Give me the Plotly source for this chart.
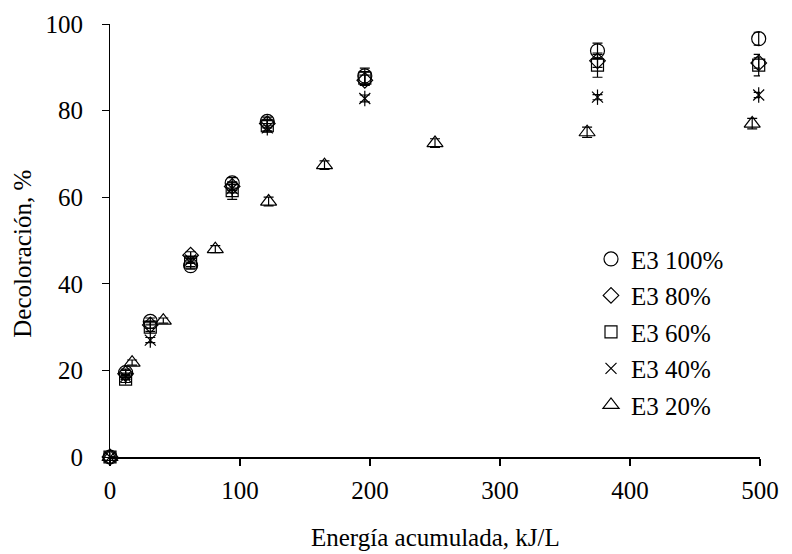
import plotly.graph_objects as go

# Data
energy = [0, 12, 31, 62, 94, 121, 196, 375, 499]
energy_20 = [0, 17, 41, 81, 122, 165, 250, 367, 494]

dec_100 = [0, 19.5, 31.3, 44.2, 63.3, 77.5, 88.0, 93.8, 96.6]
dec_80 = [0, 19.2, 30.5, 46.6, 62.5, 77.0, 87.0, 91.5, 91.0]
dec_60 = [0, 18.0, 30.0, 45.0, 61.5, 76.5, 87.5, 90.5, 90.5]
dec_40 = [0, 18.5, 27.0, 45.5, 62.0, 76.0, 82.8, 83.1, 83.6]
dec_20 = [0, 21.8, 31.5, 48.0, 59.0, 67.4, 72.5, 75.0, 77.0]

err_100 = [0, 0.8, 0.8, 0.8, 1.2, 1.0, 1.8, 1.8, 1.5]
err_80 = [0, 0.8, 0.8, 0.8, 1.0, 1.0, 1.2, 1.5, 1.2]
err_60 = [0, 0.8, 1.0, 1.0, 2.0, 1.2, 1.5, 2.8, 2.5]
err_40 = [0, 0.6, 0.6, 0.8, 1.0, 1.0, 0.8, 0.6, 0.6]
err_20 = [0, 0.6, 0.6, 0.8, 1.0, 1.0, 1.0, 1.2, 1.2]

labels = ["E3 100%", "E3 80%", "E3 60%", "E3 40%", "E3 20%"]

FONT = "Liberation Serif"
FS = 25

fig = go.Figure()

def add(x, y, e, name, symbol, size, group, legend=True):
    err = None
    if e is not None:
        err = dict(type="data", array=e, color="black", thickness=1.2, width=5)
    fig.add_trace(go.Scatter(
        x=x, y=y, mode="markers", name=name,
        legendgroup=group, showlegend=legend,
        marker=dict(symbol=symbol, size=size, color="black",
                    line=dict(color="black", width=1.2)),
        error_y=err,
        cliponaxis=False,
        hoverinfo="skip",
    ))

add(energy, dec_100, err_100, labels[0], "circle-open", 14, "g1")
add(energy, dec_80, err_80, labels[1], "diamond-open", 12, "g2")
add(energy, dec_60, err_60, labels[2], "square-open", 12, "g3")
add(energy, dec_40, err_40, labels[3], "x-thin-open", 11, "g4")
add(energy, dec_40, None, labels[3], "line-ns-open", 11, "g4", legend=False)
add(energy_20, dec_20, err_20, labels[4], "triangle-up-open", 14, "g5")

fig.update_layout(
    width=792, height=554,
    margin=dict(l=110, r=32, t=24, b=97),
    paper_bgcolor="white", plot_bgcolor="white",
    font=dict(family=FONT, size=FS, color="black"),
    showlegend=True,
    legend=dict(x=0.74, y=0.51, xanchor="left", yanchor="top",
                bgcolor="rgba(0,0,0,0)", font=dict(family=FONT, size=FS),
                tracegroupgap=1, itemsizing="trace"),
    xaxis=dict(range=[0, 500], tickvals=[0, 100, 200, 300, 400, 500],
               showgrid=False, zeroline=False, showline=True,
               linecolor="black", linewidth=2, ticks="outside", ticklen=7,
               tickwidth=2, tickcolor="black", ticklabelstandoff=3),
    yaxis=dict(range=[0, 100], tickvals=[0, 20, 40, 60, 80, 100],
               showgrid=False, zeroline=False, showline=True,
               linecolor="black", linewidth=1, ticks="outside", ticklen=7,
               tickwidth=1, tickcolor="black", ticklabelstandoff=14),
    annotations=[
        dict(text="Energía acumulada, kJ/L", xref="paper", yref="paper",
             x=0.5, y=-0.185, xanchor="center", yanchor="middle",
             showarrow=False, font=dict(family=FONT, size=FS)),
        dict(text="Decoloración, %", xref="paper", yref="paper",
             x=-0.135, y=0.47, xanchor="center", yanchor="middle",
             textangle=-90, showarrow=False, font=dict(family=FONT, size=FS)),
    ],
)

fig.write_html("out.html", config={"displayModeBar": False},
               post_script="document.body.style.margin='0';")
